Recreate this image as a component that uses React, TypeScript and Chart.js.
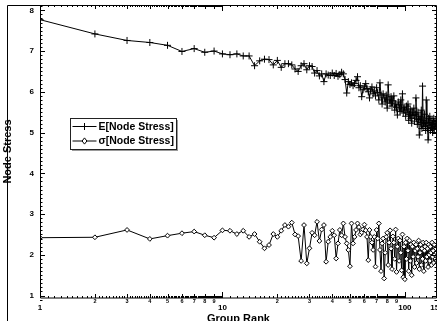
import React, { useEffect, useRef } from 'react';
import { Chart, registerables } from 'chart.js';

Chart.register(...registerables);

const ranks: number[] = [
  1, 2, 3, 4, 5, 6, 7, 8, 9, 10, 11, 12, 13, 14, 15, 16, 17, 18, 19, 20,
  21, 22, 23, 24, 25, 26, 27, 28, 29, 30, 31, 32, 33, 34, 35, 36, 37, 38, 39, 40,
  41, 42, 43, 44, 45, 46, 47, 48, 49, 50, 51, 52, 53, 54, 55, 56, 57, 58, 59, 60,
  61, 62, 63, 64, 65, 66, 67, 68, 69, 70, 71, 72, 73, 74, 75, 76, 77, 78, 79, 80,
  81, 82, 83, 84, 85, 86, 87, 88, 89, 90, 91, 92, 93, 94, 95, 96, 97, 98, 99, 100,
  101, 102, 103, 104, 105, 106, 107, 108, 109, 110, 111, 112, 113, 114, 115, 116, 117, 118, 119, 120,
  121, 122, 123, 124, 125, 126, 127, 128, 129, 130, 131, 132, 133, 134, 135, 136, 137, 138, 139, 140,
  141, 142, 143, 144, 145, 146, 147, 148, 149, 150,
];

const meanStress: number[] = [
  7.77, 7.42, 7.26, 7.21, 7.14, 6.99, 7.06, 6.97, 7.0, 6.93, 6.91, 6.93, 6.88, 6.88, 6.64, 6.76, 6.8, 6.79, 6.66, 6.77,
  6.6, 6.69, 6.69, 6.66, 6.56, 6.5, 6.64, 6.69, 6.54, 6.64, 6.62, 6.46, 6.52, 6.39, 6.44, 6.25, 6.44, 6.41, 6.4, 6.46,
  6.4, 6.45, 6.38, 6.42, 6.48, 6.44, 6.3, 5.97, 6.25, 6.18, 6.22, 6.15, 6.2, 6.28, 6.37, 6.1, 6.15, 5.88, 6.05, 6.12,
  6.2, 6.08, 6.0, 5.85, 6.05, 6.12, 5.95, 6.02, 5.9, 6.1, 5.98, 5.8, 6.22, 5.92, 5.7, 5.95, 5.85, 5.75, 5.92, 5.6,
  6.17, 5.8, 5.72, 5.88, 5.65, 5.78, 5.9, 5.55, 5.7, 5.62, 5.43, 5.75, 5.68, 5.52, 5.8, 5.58, 5.95, 5.48, 5.62, 5.55,
  5.4, 5.65, 5.5, 5.7, 5.3, 5.45, 5.58, 5.35, 5.23, 5.5, 5.42, 5.6, 5.28, 5.45, 5.85, 5.35, 5.2, 5.5, 5.32, 4.94,
  5.4, 5.25, 5.55, 5.1, 6.14, 5.3, 5.15, 5.45, 5.22, 5.05, 5.8, 5.25, 5.1, 4.82, 5.35, 5.18, 5.4, 5.05, 5.25, 5.12,
  5.3, 5.0, 5.2, 5.35, 5.08, 5.22, 5.15, 5.3, 5.1, 5.27,
];

const sigmaStress: number[] = [
  2.42, 2.43, 2.61, 2.39, 2.47, 2.53, 2.57, 2.48, 2.42, 2.6, 2.59, 2.51, 2.59, 2.44, 2.51, 2.32, 2.16, 2.24, 2.51, 2.44,
  2.59, 2.73, 2.69, 2.79, 2.5, 2.46, 1.85, 2.73, 1.79, 2.16, 2.54, 2.48, 2.81, 2.34, 2.62, 2.73, 1.83, 2.32, 2.44, 2.59,
  2.48, 1.91, 2.28, 2.61, 2.48, 2.77, 2.44, 2.28, 2.12, 1.72, 2.77, 2.28, 2.44, 2.61, 2.77, 2.68, 2.5, 2.55, 2.62, 2.74,
  2.6, 2.44, 1.87, 2.61, 2.44, 2.3, 2.12, 2.44, 1.71, 2.61, 2.4, 2.77, 2.12, 1.6, 2.28, 2.4, 1.42, 2.05, 2.44, 2.54,
  1.75, 2.3, 2.6, 2.15, 1.65, 2.45, 2.3, 1.9, 2.62, 1.58, 2.2, 2.4, 1.85, 2.35, 2.05, 1.62, 2.5, 1.45, 2.2, 1.4,
  2.3, 1.9, 2.4, 2.1, 1.6, 2.35, 1.85, 2.25, 1.5, 2.2, 1.95, 2.3, 1.7, 2.1, 2.25, 1.8, 2.15, 1.95, 2.35, 1.65,
  2.05, 2.25, 1.75, 2.15, 1.9, 2.3, 1.6, 2.1, 2.2, 1.85, 2.3, 1.95, 2.15, 1.7, 2.25, 2.0, 1.85, 2.2, 2.05, 1.75,
  2.3, 1.95, 2.1, 1.8, 2.25, 2.0, 1.9, 2.15, 2.05, 1.95,
];

const seriesLabels: string[] = ['E[Node Stress]', 'σ[Node Stress]'];
const xTickValues: number[] = [1, 2, 3, 4, 5, 6, 7, 8, 9, 10, 20, 30, 40, 50, 60, 70, 80, 90, 100, 150];
const xTickLabels: string[] = ['1', '2', '3', '4', '5', '6', '7', '8', '9', '10', '2', '3', '4', '5', '6', '7', '8', '9', '100', '150'];
const xMajorTicks: number[] = [1, 10, 100, 150];
const yTickValues: number[] = [1, 2, 3, 4, 5, 6, 7, 8];
const xTitle = 'Group Rank';
const yTitle = 'Node Stress';

const FONT = "Arial, 'Liberation Sans', Helvetica, sans-serif";

const framePlugin = {
  id: 'frameTicks',
  afterDraw(chart: any) {
    const { ctx, chartArea: a } = chart;
    const xs = chart.scales.x;
    const ys = chart.scales.y;
    ctx.save();
    ctx.strokeStyle = '#000';
    ctx.lineWidth = 1;
    // outer figure border (left and top)
    ctx.beginPath();
    ctx.moveTo(7.5, chart.height);
    ctx.lineTo(7.5, a.top + 0.5);
    ctx.lineTo(a.left, a.top + 0.5);
    ctx.stroke();
    // plot frame
    ctx.beginPath();
    ctx.rect(a.left + 0.5, a.top + 0.5, a.right - a.left - 1, a.bottom - a.top - 0.5);
    ctx.stroke();
    // x ticks (log), inward on bottom and top
    ctx.beginPath();
    const decades = [1, 10, 100];
    for (const d of decades) {
      for (let k = 1; k <= 9; k++) {
        for (let m = 0; m <= 9; m++) {
          const v = d * (k + m / 10);
          if (v > xs.max) break;
          let len = 2;
          if (m === 0) len = k === 1 ? 6 : 4;
          const px = Math.round(xs.getPixelForValue(v)) + 0.5;
          ctx.moveTo(px, a.bottom);
          ctx.lineTo(px, a.bottom - len);
          ctx.moveTo(px, a.top);
          ctx.lineTo(px, a.top + len);
        }
      }
    }
    // y ticks, inward on left and right
    for (let i = 9; i <= 81; i++) {
      const v = i / 10;
      const len = i % 10 === 0 ? 5 : 2.5;
      const py = Math.round(ys.getPixelForValue(v)) + 0.5;
      ctx.moveTo(a.left, py);
      ctx.lineTo(a.left + len, py);
      ctx.moveTo(a.right, py);
      ctx.lineTo(a.right - len, py);
    }
    ctx.stroke();
    ctx.restore();
  },
};

const legendPlugin = {
  id: 'boxLegend',
  afterDraw(chart: any) {
    const { ctx, chartArea: a } = chart;
    const x0 = a.left + 30.5;
    const y0 = a.top + 113.5;
    const w = 106;
    const h = 31;
    ctx.save();
    ctx.fillStyle = '#9a9a9a';
    ctx.fillRect(x0 + 1.5, y0 + 1.5, w, h);
    ctx.fillStyle = '#fff';
    ctx.fillRect(x0, y0, w, h);
    ctx.strokeStyle = '#222';
    ctx.lineWidth = 1;
    ctx.strokeRect(x0, y0, w, h);
    chart.data.datasets.forEach((ds: any, i: number) => {
      const cy = y0 + 8 + i * 14.5;
      ctx.strokeStyle = '#000';
      ctx.lineWidth = 1;
      ctx.beginPath();
      ctx.moveTo(x0 + 2, cy);
      ctx.lineTo(x0 + 26, cy);
      ctx.stroke();
      const mx = x0 + 14;
      ctx.beginPath();
      if (ds.pointStyle === 'cross') {
        const r = ds.pointRadius;
        ctx.moveTo(mx, cy - r);
        ctx.lineTo(mx, cy + r);
        ctx.stroke();
      } else {
        const r = ds.pointRadius;
        ctx.moveTo(mx, cy - r * 1.3);
        ctx.lineTo(mx + r, cy);
        ctx.lineTo(mx, cy + r * 1.3);
        ctx.lineTo(mx - r, cy);
        ctx.closePath();
        ctx.fillStyle = '#fff';
        ctx.fill();
        ctx.stroke();
      }
      ctx.fillStyle = '#000';
      ctx.font = `bold 10.5px ${FONT}`;
      ctx.textBaseline = 'middle';
      ctx.textAlign = 'left';
      ctx.fillText(ds.label, x0 + 28, cy + 0.5);
    });
    ctx.restore();
  },
};

export default function App() {
  const canvasRef = useRef<HTMLCanvasElement | null>(null);

  useEffect(() => {
    const canvas = canvasRef.current;
    if (!canvas) return;
    const chart = new Chart(canvas, {
      type: 'line',
      data: {
        datasets: [
          {
            label: seriesLabels[0],
            data: ranks.map((r, i) => ({ x: r, y: meanStress[i] })),
            borderColor: '#000',
            borderWidth: 1,
            pointStyle: 'cross',
            pointRadius: 3.5,
            pointBorderColor: '#000',
            pointBorderWidth: 1,
            pointBackgroundColor: '#000',
            fill: false,
            tension: 0,
          },
          {
            label: seriesLabels[1],
            data: ranks.map((r, i) => ({ x: r, y: sigmaStress[i] })),
            borderColor: '#000',
            borderWidth: 1,
            pointStyle: 'rectRot',
            pointRadius: 2.4,
            pointBorderColor: '#000',
            pointBorderWidth: 1,
            pointBackgroundColor: '#fff',
            fill: false,
            tension: 0,
          },
        ],
      },
      options: {
        responsive: false,
        animation: false,
        devicePixelRatio: 1,
        layout: { padding: { top: 5, right: 43, left: 0, bottom: 0 } },
        plugins: {
          legend: { display: false },
          tooltip: { enabled: false },
        },
        scales: {
          x: {
            type: 'logarithmic',
            min: 1,
            max: 150,
            grid: { display: false, drawTicks: false },
            border: { display: false },
            afterBuildTicks: (scale: any) => {
              scale.ticks = xTickValues.map((v) => ({ value: v }));
            },
            afterFit: (scale: any) => {
              scale.height = 42;
              scale.paddingLeft = 0;
              scale.paddingRight = 0;
            },
            ticks: {
              autoSkip: false,
              maxRotation: 0,
              padding: 0.5,
              color: '#000',
              callback: (_v: any, i: number) => xTickLabels[i],
              font: (ctx: any) => {
                const major = ctx.tick && xMajorTicks.includes(ctx.tick.value);
                return major
                  ? { family: FONT, size: 8, weight: 'bold', lineHeight: 2.2 }
                  : { family: FONT, size: 5.5, weight: 'bold', lineHeight: 1.2 };
              },
            },
            title: {
              display: true,
              text: xTitle,
              color: '#000',
              font: { family: FONT, size: 11, weight: 'bold' },
              padding: { top: 0, bottom: 14 },
            },
          },
          y: {
            type: 'linear',
            min: 0.94,
            max: 8.13,
            grid: { display: false, drawTicks: false },
            border: { display: false },
            afterBuildTicks: (scale: any) => {
              scale.ticks = yTickValues.map((v) => ({ value: v }));
            },
            afterFit: (scale: any) => {
              scale.width = 40;
              scale.paddingTop = 0;
              scale.paddingBottom = 0;
            },
            ticks: {
              padding: 6,
              color: '#000',
              callback: (v: any) => String(v),
              font: { family: FONT, size: 8, weight: 'bold' },
            },
            title: {
              display: true,
              text: yTitle,
              color: '#000',
              font: { family: FONT, size: 11, weight: 'bold' },
              padding: { top: 1.5, bottom: 0 },
            },
          },
        },
      },
      plugins: [framePlugin, legendPlugin],
    } as any);
    return () => chart.destroy();
  }, []);

  return (
    <div
      style={{
        position: 'fixed',
        left: 0,
        top: 0,
        width: 437,
        height: 321,
        overflow: 'hidden',
        background: '#fff',
      }}
    >
      <canvas
        ref={canvasRef}
        width={480}
        height={340}
        style={{ display: 'block', width: 480, height: 340 }}
      />
    </div>
  );
}
